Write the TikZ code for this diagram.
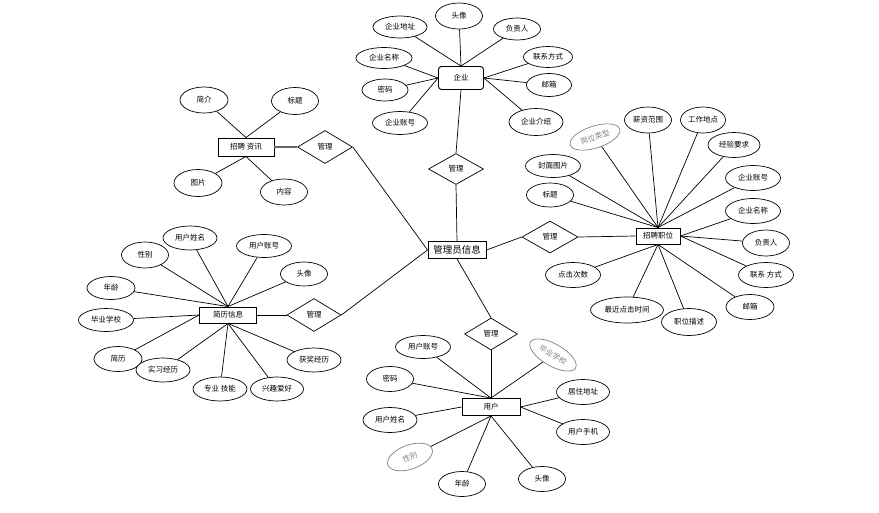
\documentclass[tikz,border=0pt]{standalone}
\usepackage{fontspec}
\setmainfont{Noto Sans CJK SC}
\usetikzlibrary{shapes.geometric}
\tikzset{
  attr/.style={ellipse, draw, line width=0.7pt, fill=white, inner sep=0pt, font=\fontsize{7.5}{8}\selectfont},
  gattr/.style={attr, draw=gray, text=gray},
  ent/.style={rectangle, draw, line width=0.95pt, fill=white, inner sep=0pt, font=\fontsize{7.5}{8}\selectfont},
  rel/.style={diamond, draw, line width=0.7pt, fill=white, inner sep=0pt, font=\fontsize{7.5}{8}\selectfont},
  conn/.style={line width=0.7pt},
  thickconn/.style={line width=1.4pt, gray!80!black}
}
\newcommand{\att}[6][]{\node[attr, minimum width=#4pt, minimum height=#5pt, #1] (#2) at (#3) {#6};}
\begin{document}
\begin{tikzpicture}[x=1pt,y=-1pt]
\useasboundingbox (0,0) rectangle (879,512);

% ---------- 企业 ----------
\node[ent, rounded corners=3pt, line width=0.9pt, minimum width=45pt, minimum height=23pt] (qy) at (461,78) {企业};
\att{qy1}{459,16}{47}{26}{头像}
\att{qy2}{400,27}{54}{22}{企业地址}
\att{qy3}{517,29}{47}{22}{负责人}
\att{qy4}{384,58}{56}{21}{企业名称}
\att{qy5}{548,57}{49}{21}{联系方式}
\att{qy6}{385,90}{46}{22}{密码}
\att{qy7}{549,85}{45}{23}{邮箱}
\att{qy8}{400,123}{55}{23}{企业账号}
\att{qy9}{536,122}{54}{27}{企业介绍}
\foreach \a in {qy1,qy2,qy3} \draw[conn] (\a) -- (qy.north);
\foreach \a in {qy4,qy6,qy8} \draw[conn] (\a) -- (qy.west);
\foreach \a in {qy5,qy7,qy9} \draw[conn] (\a) -- (qy.east);

% ---------- 管理员信息 ----------
\node[rel, minimum width=55pt, minimum height=31pt] (r1) at (456,169) {管理};
\node[ent, minimum width=58pt, minimum height=17pt, font=\fontsize{9.5}{10}\selectfont] (gly) at (457,250) {管理员信息};
\draw[conn] (qy.south) -- (r1.north);
\draw[conn] (r1.south) -- (gly.north);

% ---------- 招聘职位 ----------
\node[rel, minimum width=56pt, minimum height=32pt] (r2) at (550,237) {管理};
\node[ent, minimum width=44pt, minimum height=16pt] (zp) at (658,236) {招聘职位};
\draw[conn] (gly.east) -- (r2.west);
\draw[conn] (r2.east) -- (zp.west);
\node[gattr, rotate=18, minimum width=52pt, minimum height=22pt] (zp1) at (595,137) {岗位类型};
\att{zp2}{648,120}{47}{26}{薪资范围}
\att{zp3}{703,120}{45}{26}{工作地点}
\att{zp4}{734,145}{52}{25}{经验要求}
\att{zp5}{553,166}{55}{23}{封面图片}
\att{zp6}{550,195}{47}{24}{标题}
\att{zp7}{753,178}{55}{25}{企业账号}
\att{zp8}{753,211}{55}{25}{企业名称}
\att{zp9}{766,243}{47}{26}{负责人}
\att{zp10}{766,275}{55}{25}{联系 方式}
\att{zp11}{750,307}{48}{25}{邮箱}
\att{zp12}{573,275}{55}{25}{点击次数}
\att{zp13}{627,310}{73}{26}{最近点击时间}
\att{zp14}{689,322}{55}{27}{职位描述}
\foreach \a in {zp1,zp2,zp3,zp4,zp5,zp6,zp7} \draw[conn] (\a) -- (zp.north);
\foreach \a in {zp8,zp9,zp10} \draw[conn] (\a) -- (zp.east);
\foreach \a in {zp11,zp12,zp13,zp14} \draw[conn] (\a) -- (zp.south);

% ---------- 招聘资讯 ----------
\node[ent, minimum width=56pt, minimum height=18pt] (zx) at (246,147) {招聘 资讯};
\att{zx1}{204,100}{48}{26}{简介}
\att{zx2}{295,101}{47}{27}{标题}
\att{zx3}{198,183}{48}{27}{图片}
\att{zx4}{284,192}{47}{26}{内容}
\node[rel, minimum width=55pt, minimum height=33pt] (r3) at (325,147) {管理};
\foreach \a in {zx1,zx2} \draw[conn] (\a) -- (zx.north);
\foreach \a in {zx3,zx4} \draw[conn] (\a) -- (zx.south);
\draw[thickconn] (zx.east) -- (r3.west);
\draw[conn] (r3.east) -- (gly.west);

% ---------- 简历信息 ----------
\node[ent, minimum width=57pt, minimum height=16pt] (jl) at (228,315) {简历信息};
\att{jl1}{190,238}{54}{24}{用户姓名}
\att{jl2}{264,246}{55}{23}{用户账号}
\att{jl3}{145,255}{47}{26}{性别}
\att{jl4}{304,274}{47}{24}{头像}
\att{jl5}{111,288}{48}{23}{年龄}
\att{jl6}{106,320}{55}{23}{毕业学校}
\att{jl7}{118,359}{48}{25}{简历}
\att{jl8}{163,370}{54}{24}{实习经历}
\att{jl9}{220,389}{54}{24}{专业 技能}
\att{jl10}{277,389}{53}{24}{兴趣爱好}
\att{jl11}{314,360}{54}{24}{获奖经历}
\node[rel, minimum width=54pt, minimum height=33pt] (r4) at (314,315) {管理};
\foreach \a in {jl1,jl2,jl3,jl4,jl5} \draw[conn] (\a) -- (jl.north);
\foreach \a in {jl6,jl7} \draw[conn] (\a) -- (jl.west);
\foreach \a in {jl8,jl9,jl10,jl11} \draw[conn] (\a) -- (jl.south);
\draw[conn] (jl.east) -- (r4.west);
\draw[conn] (r4.east) -- (gly.west);

% ---------- 用户 ----------
\node[rel, minimum width=53pt, minimum height=32pt] (r5) at (491,334) {管理};
\node[ent, minimum width=58pt, minimum height=17pt] (yh) at (491,407) {用户};
\draw[conn] (gly.south) -- (r5.north);
\draw[conn] (r5.south) -- (yh.north);
\att{yh1}{423,347}{55}{23}{用户账号}
\node[gattr, rotate=-30, minimum width=52pt, minimum height=22pt] (yh2) at (553,355) {毕业学校};
\att{yh3}{390,379}{47}{25}{密码}
\att{yh4}{583,392}{53}{25}{居住地址}
\att{yh5}{390,420}{54}{25}{用户姓名}
\att{yh6}{583,432}{53}{25}{用户手机}
\node[gattr, rotate=20, minimum width=47pt, minimum height=24pt] (yh7) at (410,457) {性别};
\att{yh8}{462,484}{47}{25}{年龄}
\att{yh9}{542,479}{47}{25}{头像}
\foreach \a in {yh1,yh2,yh3} \draw[conn] (\a) -- (yh.north);
\foreach \a in {yh4,yh6} \draw[conn] (\a) -- (yh.east);
\draw[conn] (yh5) -- (yh.west);
\foreach \a in {yh7,yh8,yh9} \draw[conn] (\a) -- (yh.south);
\end{tikzpicture}
\end{document}
